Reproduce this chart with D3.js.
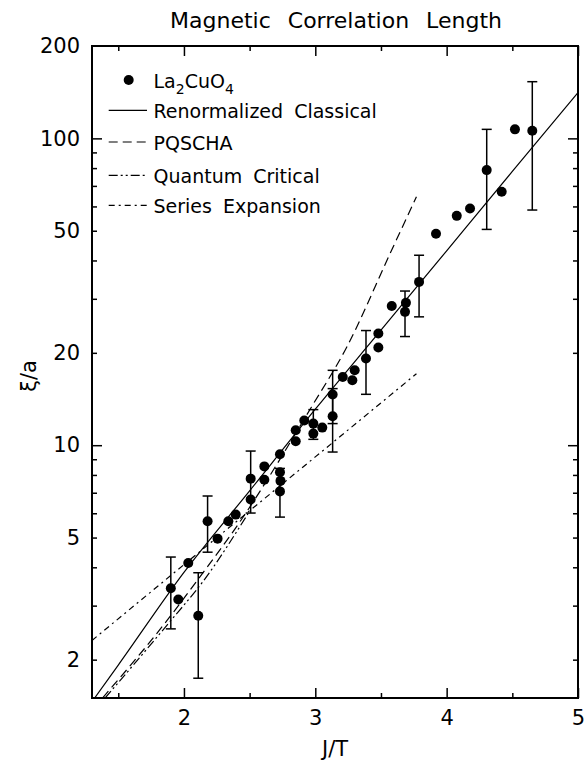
<!DOCTYPE html>
<html>
<head>
<meta charset="utf-8">
<script src="https://cdn.jsdelivr.net/npm/d3@7"></script>
<style>
  body { margin: 0; background: #fff; }
  svg text { font-family: "DejaVu Sans", sans-serif; fill: #000; }
</style>
</head>
<body>
<svg id="chart" width="584" height="764"></svg>
<script>
// La2CuO4 data (J/T, xi/a)
const jt = [1.90, 1.957, 2.033, 2.109, 2.18, 2.256, 2.338, 2.394, 2.508, 2.508,
            2.612, 2.612, 2.731, 2.731, 2.735, 2.731, 2.851, 2.851, 2.916, 2.985,
            2.985, 3.053, 3.132, 3.132, 3.209, 3.282, 3.30, 3.386, 3.48, 3.48,
            3.582, 3.69, 3.683, 3.79, 3.919, 4.077, 4.178, 4.305, 4.419, 4.52, 4.652];
const xi = [3.42, 3.14, 4.13, 2.78, 5.65, 4.96, 5.65, 5.94, 6.65, 7.78,
            8.53, 7.72, 9.34, 8.16, 7.65, 7.07, 11.18, 10.3, 12.03, 11.76,
            10.91, 11.41, 14.62, 12.42, 16.69, 16.28, 17.54, 19.16, 23.12, 20.82,
            28.44, 29.1, 27.2, 34.06, 48.9, 55.9, 59.1, 78.8, 67.0, 107, 105.9];

// error bars
const errJT = [1.90, 2.109, 2.18, 2.508, 2.731, 2.985, 3.132, 3.132, 3.386, 3.683, 3.79, 4.305, 4.652];
const errLo = [2.52, 1.74, 4.48, 6.01, 5.83, 10.45, 11.76, 9.50, 14.65, 22.6, 26.2, 50.5, 58.4];
const errHi = [4.32, 3.84, 6.83, 9.57, 8.4, 13.06, 17.54, 15.29, 23.64, 31.8, 41.6, 107, 153];

// theory curves
const rcCurve = [[1.32, 1.5], [1.5, 1.92], [2.0, 3.85], [2.5, 7.1], [3.0, 13.1], [3.5, 23.7], [4.0, 43], [4.5, 78], [5.0, 141]];
const pqschaCurve = [[1.38, 1.5], [1.87, 2.68], [2.10, 3.62], [2.41, 5.5], [2.97, 13.3], [3.24, 20.9], [3.57, 42.2], [3.77, 64.5]];
const qcCurve = [[1.40, 1.5], [1.88, 2.62], [2.15, 3.62], [2.50, 6.1]];
const seCurve = [[1.3, 2.31], [2.0, 4.08], [3.0, 9.16], [3.77, 17.1]];

const xMajor = [2, 3, 4, 5];
const xMinor = [1.5, 2.5, 3.5, 4.5];
const yLabels = [2, 5, 10, 20, 50, 100, 200];
const yMajor = [10, 100];
const yMinor = [2, 3, 4, 5, 6, 7, 8, 9, 20, 30, 40, 50, 60, 70, 80, 90];

const legendItems = ["Renormalized Classical", "PQSCHA", "Quantum Critical", "Series Expansion"];
const legendDash = [null, "9,5", "9,3,2,3,2,3", "6,4,2,4"];

const svg = d3.select("#chart");
const plotL = 92, plotR = 578, plotT = 46, plotB = 698;

const x = d3.scaleLinear().domain([1.3, 5]).range([plotL, plotR]);
const y = d3.scaleLog().domain([1.5, 200]).range([plotB, plotT]);

svg.append("defs").append("clipPath").attr("id", "plotClip")
  .append("rect")
  .attr("x", plotL).attr("y", plotT)
  .attr("width", plotR - plotL).attr("height", plotB - plotT);

// title
svg.append("text")
  .attr("x", 336).attr("y", 28)
  .attr("text-anchor", "middle")
  .style("font-size", "22px")
  .style("word-spacing", "10px")
  .text("Magnetic Correlation Length");

// axes: ticks point inward
function tickAxis(axisFn, scale, vals, len, labels) {
  return axisFn(scale).tickValues(vals).tickSizeInner(-len).tickSizeOuter(0)
    .tickPadding(12).tickFormat(labels ? d3.format("d") : "");
}

function styleAxis(g) {
  g.select(".domain").remove();
  g.selectAll(".tick line").attr("stroke", "#000").attr("stroke-width", 1.5);
  g.selectAll("text").style("font-size", "21px").style("font-family", "'DejaVu Sans', sans-serif");
}

svg.append("g").attr("transform", `translate(0,${plotB})`)
  .call(tickAxis(d3.axisBottom, x, xMinor, 5, false)).call(styleAxis);
svg.append("g").attr("transform", `translate(0,${plotB})`)
  .call(tickAxis(d3.axisBottom, x, xMajor, 10, true)).call(styleAxis);
svg.append("g").attr("transform", `translate(0,${plotT})`)
  .call(tickAxis(d3.axisTop, x, xMinor, 5, false)).call(styleAxis);
svg.append("g").attr("transform", `translate(0,${plotT})`)
  .call(tickAxis(d3.axisTop, x, xMajor, 10, false)).call(styleAxis);

svg.append("g").attr("transform", `translate(${plotL},0)`)
  .call(tickAxis(d3.axisLeft, y, yMinor, 5, false)).call(styleAxis);
svg.append("g").attr("transform", `translate(${plotL},0)`)
  .call(tickAxis(d3.axisLeft, y, yMajor, 10, false)).call(styleAxis);
svg.append("g").attr("transform", `translate(${plotL},0)`)
  .call(tickAxis(d3.axisLeft, y, yLabels, 0, true)).call(styleAxis);
svg.append("g").attr("transform", `translate(${plotR},0)`)
  .call(tickAxis(d3.axisRight, y, yMinor, 5, false)).call(styleAxis);
svg.append("g").attr("transform", `translate(${plotR},0)`)
  .call(tickAxis(d3.axisRight, y, yMajor, 10, false)).call(styleAxis);

// frame
svg.append("rect")
  .attr("x", plotL).attr("y", plotT)
  .attr("width", plotR - plotL).attr("height", plotB - plotT)
  .attr("fill", "none").attr("stroke", "#000").attr("stroke-width", 2);

// axis titles
svg.append("text")
  .attr("x", 335).attr("y", 756)
  .attr("text-anchor", "middle")
  .style("font-size", "21px")
  .text("J/T");

svg.append("text")
  .attr("transform", "translate(36,376) rotate(-90)")
  .attr("text-anchor", "middle")
  .style("font-size", "21px")
  .text("ξ/a");

// theory curves
const line = d3.line()
  .x(d => x(d[0]))
  .y(d => y(d[1]))
  .curve(d3.curveMonotoneX);

const curves = svg.append("g").attr("clip-path", "url(#plotClip)");
[rcCurve, pqschaCurve, qcCurve, seCurve].forEach((c, i) => {
  curves.append("path")
    .attr("d", line(c))
    .attr("fill", "none")
    .attr("stroke", "#000")
    .attr("stroke-width", 1.2)
    .attr("stroke-dasharray", legendDash[i]);
});

// error bars
const errs = svg.append("g").attr("stroke", "#000").attr("stroke-width", 1.5);
errJT.forEach((v, i) => {
  const cx = x(v);
  errs.append("line").attr("x1", cx).attr("x2", cx).attr("y1", y(errLo[i])).attr("y2", y(errHi[i]));
  errs.append("line").attr("x1", cx - 5).attr("x2", cx + 5).attr("y1", y(errLo[i])).attr("y2", y(errLo[i]));
  errs.append("line").attr("x1", cx - 5).attr("x2", cx + 5).attr("y1", y(errHi[i])).attr("y2", y(errHi[i]));
});

// data points
svg.append("g").selectAll("circle")
  .data(jt.map((v, i) => [v, xi[i]]))
  .join("circle")
  .attr("cx", d => x(d[0]))
  .attr("cy", d => y(d[1]))
  .attr("r", 5)
  .attr("fill", "#000");

// legend
const legend = svg.append("g");
legend.append("circle").attr("cx", 128.7).attr("cy", 80).attr("r", 5).attr("fill", "#000");
const la = legend.append("text").attr("x", 153.5).attr("y", 88.3).style("font-size", "19px");
la.append("tspan").text("La");
la.append("tspan").attr("dy", 6).style("font-size", "14px").text("2");
la.append("tspan").attr("dy", -6).text("CuO");
la.append("tspan").attr("dy", 6).style("font-size", "14px").text("4");

const legendBase = [118.3, 150, 183.3, 213.3];
legendItems.forEach((name, i) => {
  legend.append("line")
    .attr("x1", 108.7).attr("x2", 147)
    .attr("y1", legendBase[i] - 8).attr("y2", legendBase[i] - 8)
    .attr("stroke", "#000").attr("stroke-width", 1.2)
    .attr("stroke-dasharray", legendDash[i]);
  legend.append("text")
    .attr("x", 153.5).attr("y", legendBase[i])
    .style("font-size", "19px")
    .style("word-spacing", "5px")
    .text(name);
});
</script>
</body>
</html>
